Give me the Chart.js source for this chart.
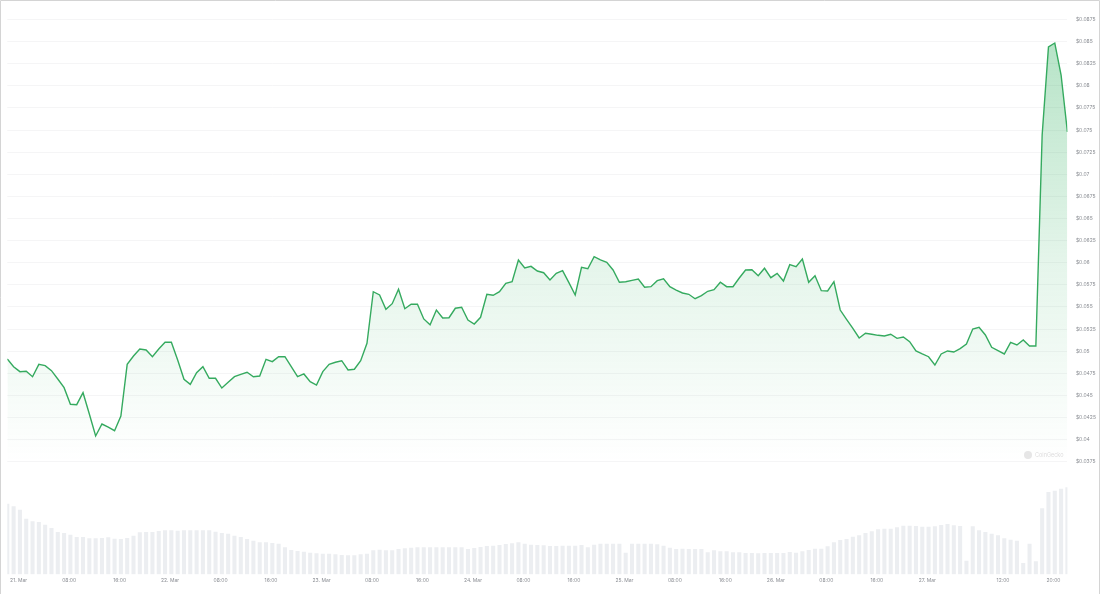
<!DOCTYPE html>
<html>
<head>
<meta charset="utf-8">
<script src="https://cdn.jsdelivr.net/npm/chart.js@4.4.1/dist/chart.umd.min.js"></script>
<style>
  html, body { margin: 0; padding: 0; background: #ffffff; }
  #wrap { position: relative; width: 1100px; height: 594px; }
  canvas { display: block; }
</style>
</head>
<body>
<div id="wrap"><canvas id="c" width="1100" height="594"></canvas></div>
<script>
// Hourly price (USD), starting 20 Mar ~22:12
const prices = [
  0.04911,0.04824,0.04768,0.04772,0.04711,0.04851,0.04836,0.04779,0.04685,0.04587,
  0.04399,0.04395,0.04530,0.04289,0.04041,0.04176,0.04142,0.04101,0.04267,0.04851,
  0.04945,0.05024,0.05013,0.04937,0.05024,0.05100,0.05100,0.04900,0.04682,0.04625,
  0.04756,0.04824,0.04693,0.04693,0.04583,0.04648,0.04711,0.04738,0.04761,0.04711,
  0.04719,0.04908,0.04881,0.04937,0.04937,0.04824,0.04711,0.04742,0.04655,0.04617,
  0.04768,0.04851,0.04874,0.04892,0.04787,0.04795,0.04892,0.05089,0.05672,0.05635,
  0.05473,0.05537,0.05699,0.05480,0.05530,0.05530,0.05364,0.05299,0.05465,0.05375,
  0.05378,0.05485,0.05496,0.05352,0.05307,0.05383,0.05643,0.05632,0.05672,0.05767,
  0.05785,0.06031,0.05940,0.05959,0.05906,0.05887,0.05805,0.05880,0.05910,0.05774,
  0.05635,0.05948,0.05932,0.06068,0.06031,0.06005,0.05918,0.05779,0.05785,0.05801,
  0.05816,0.05722,0.05729,0.05797,0.05819,0.05729,0.05691,0.05658,0.05643,0.05593,
  0.05627,0.05677,0.05695,0.05779,0.05729,0.05729,0.05827,0.05918,0.05921,0.05853,
  0.05937,0.05831,0.05880,0.05793,0.05978,0.05955,0.06042,0.05779,0.05853,0.05684,
  0.05680,0.05785,0.05465,0.05360,0.05258,0.05149,0.05202,0.05191,0.05179,0.05171,
  0.05191,0.05145,0.05160,0.05107,0.05002,0.04968,0.04937,0.04843,0.04968,0.05002,
  0.04990,0.05028,0.05081,0.05250,0.05270,0.05183,0.05044,0.05005,0.04968,0.05100,
  0.05070,0.05126,0.05058,0.05058,0.07444,0.08439,0.08484,0.08122,0.07478
];

// Hourly volume (relative units)
const volumes = [
  70.3,67.6,64.3,55.3,52.6,52.0,49.3,46.0,42.0,41.0,
  39.3,37.0,37.0,35.6,35.6,36.0,36.6,35.3,35.0,36.0,
  38.3,41.6,42.0,42.0,43.0,43.6,43.6,43.3,43.6,43.6,
  43.6,43.6,43.6,42.3,41.0,40.3,38.3,37.0,35.0,33.3,
  31.6,31.6,31.0,30.3,26.6,24.0,23.0,22.3,21.3,20.6,
  20.3,20.3,19.6,19.0,18.6,18.6,19.6,20.3,23.6,24.3,
  23.6,23.6,25.0,25.6,26.3,26.6,26.6,26.6,26.6,26.6,
  26.6,26.6,26.6,25.0,26.0,27.0,28.0,28.3,29.0,30.0,
  30.6,31.6,30.3,29.3,29.0,28.6,28.0,28.0,28.3,28.3,
  28.3,29.0,26.6,29.3,30.3,30.3,30.3,30.3,21.3,30.3,
  30.3,30.3,30.3,29.6,28.3,26.3,25.0,25.3,25.0,25.0,
  25.0,21.6,23.6,22.6,22.6,21.6,21.6,21.0,21.0,20.6,
  21.0,21.0,21.0,21.0,22.0,21.3,22.6,24.0,25.3,25.3,
  27.6,31.6,34.0,35.0,37.3,38.6,41.0,42.6,44.6,45.3,
  45.3,46.6,48.3,48.3,48.0,47.3,47.3,47.6,49.0,50.0,
  48.6,48.0,13.3,47.6,43.6,42.0,40.3,38.6,35.6,34.3,
  33.3,11.0,30.3,12.6,65.6,82.0,83.3,85.3,86.6
];

// x-axis tick labels and their time (hours since first data point)
const xTickLabels = ["21. Mar","08:00","16:00","22. Mar","08:00","16:00","23. Mar","08:00","16:00",
  "24. Mar","08:00","16:00","25. Mar","08:00","16:00","26. Mar","08:00","16:00","27. Mar","12:00","20:00"];
const xTickHours = [1.8,9.8,17.8,25.8,33.8,41.8,49.8,57.8,65.8,73.8,81.8,89.8,97.8,105.8,113.8,
  121.8,129.8,137.8,145.8,157.8,165.8];

// price axis ticks
const yTicks = [0.0375,0.04,0.0425,0.045,0.0475,0.05,0.0525,0.055,0.0575,0.06,0.0625,0.065,
  0.0675,0.07,0.0725,0.075,0.0775,0.08,0.0825,0.085,0.0875];

const PRICE_TOP = 0.0875, PRICE_BASE = 0.0375;
const CA_TOP = 19.5, CA_BOTTOM = 574.3, CA_LEFT = 7.3, CA_RIGHT = 1067.4;
const BASE_PX = 461.7;
const pxPerUnit = (BASE_PX - CA_TOP) / (PRICE_TOP - PRICE_BASE);
const priceMin = PRICE_TOP - (CA_BOTTOM - CA_TOP) / pxPerUnit;

const tickFont = { family: 'Inter, "Noto Sans", sans-serif', size: 5 };
const tickColor = '#8a8d93';

const framePlugin = {
  id: 'frame',
  afterDraw(chart) {
    const ctx = chart.ctx;
    ctx.save();
    ctx.fillStyle = '#e6e6e6';
    ctx.beginPath();
    ctx.arc(1028, 455, 4, 0, Math.PI * 2);
    ctx.fill();
    ctx.fillStyle = '#dcdcdc';
    ctx.font = '5.5px Inter, "Noto Sans", sans-serif';
    ctx.textBaseline = 'middle';
    ctx.fillText('CoinGecko', 1035, 455);
    ctx.strokeStyle = '#d4d4d4';
    ctx.lineWidth = 1;
    ctx.beginPath();
    ctx.moveTo(0.5, 594); ctx.lineTo(0.5, 0.5); ctx.lineTo(1099.5, 0.5); ctx.lineTo(1099.5, 594);
    ctx.stroke();
    ctx.restore();
  }
};

function fillGradient(ctx) {
  const chart = ctx.chart;
  const g = chart.ctx.createLinearGradient(0, CA_TOP, 0, BASE_PX);
  g.addColorStop(0, 'rgba(52,178,98,0.38)');
  g.addColorStop(0.55, 'rgba(52,178,98,0.13)');
  g.addColorStop(1, 'rgba(52,178,98,0.0)');
  return g;
}

new Chart(document.getElementById('c'), {
  type: 'line',
  data: {
    datasets: [
      {
        type: 'line',
        data: prices.map((p, i) => ({ x: i, y: p })),
        yAxisID: 'y',
        borderColor: '#35aa5f',
        borderWidth: 1.4,
        pointRadius: 0,
        tension: 0,
        fill: { value: PRICE_BASE },
        backgroundColor: fillGradient,
        order: 1
      },
      {
        type: 'bar',
        data: volumes.map((v, i) => ({ x: i, y: v })),
        yAxisID: 'yv',
        backgroundColor: '#eceef1',
        barThickness: 3.4,
        order: 2
      }
    ]
  },
  options: {
    responsive: false,
    animation: false,
    devicePixelRatio: 1,
    layout: { padding: { left: CA_LEFT, top: CA_TOP, right: 0, bottom: 0 } },
    plugins: { legend: { display: false }, tooltip: { enabled: false } },
    scales: {
      x: {
        type: 'linear',
        min: 0,
        max: prices.length - 1,
        offset: false,
        grid: { display: false, drawTicks: false },
        border: { display: false },
        afterBuildTicks(scale) { scale.ticks = xTickHours.map(v => ({ value: v })); },
        afterFit(scale) { scale.height = 594 - CA_BOTTOM; },
        ticks: {
          autoSkip: false, maxRotation: 0, padding: 3,
          color: tickColor, font: tickFont,
          callback: (v, i) => xTickLabels[i]
        }
      },
      y: {
        position: 'right',
        min: priceMin,
        max: PRICE_TOP,
        grid: { color: '#f5f5f6', drawTicks: false, lineWidth: 1 },
        border: { display: false },
        afterBuildTicks(scale) { scale.ticks = yTicks.map(v => ({ value: v })); },
        afterFit(scale) { scale.width = 1100 - CA_RIGHT; },
        ticks: {
          padding: 8.5, color: tickColor, font: tickFont,
          callback: v => '$' + parseFloat(v.toFixed(4))
        }
      },
      yv: {
        display: false,
        position: 'left',
        min: 0,
        max: CA_BOTTOM - CA_TOP
      }
    }
  },
  plugins: [framePlugin]
});
</script>
</body>
</html>
